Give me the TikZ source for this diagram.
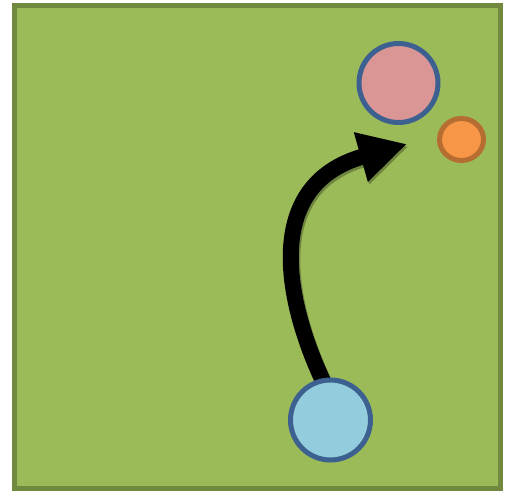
\documentclass[tikz,border=0pt]{standalone}
\usetikzlibrary{arrows.meta,shapes.geometric}
\definecolor{bgfill}{HTML}{9BBB59}
\definecolor{bgline}{HTML}{71893F}
\definecolor{pinkfill}{HTML}{D99694}
\definecolor{bluefill}{HTML}{93CDDD}
\definecolor{blueline}{HTML}{3C6090}
\definecolor{orangefill}{HTML}{F79646}
\definecolor{orangeline}{HTML}{B66D31}
\begin{document}
\begin{tikzpicture}[x=1pt,y=-1pt,
  ball/.style={circle,draw=blueline,line width=5pt,inner sep=0pt},
  bigarrow/.style={line width=16pt,-{Triangle[length=48pt,width=48pt]}}]
\useasboundingbox (0,0) rectangle (509,492);
\draw[fill=bgfill,draw=bgline,line width=5pt] (14.5,5.5) rectangle (500.5,488.5);
\node[ball,fill=pinkfill,minimum size=79pt] (pink) at (398.5,83) {};
\node[ellipse,draw=orangeline,fill=orangefill,line width=5pt,inner sep=0pt,minimum width=44pt,minimum height=42pt] (orange) at (461.5,139.5) {};
\coordinate (start) at (323,381);
\coordinate (tip) at (407,144);
\draw[bigarrow,draw=black!50!bgline,opacity=0.45,transform canvas={xshift=1.5pt,yshift=-2.5pt}] (start) .. controls (285,300) and (262,185) .. (tip);
\draw[bigarrow,black] (start) .. controls (285,300) and (262,185) .. (tip);
\node[ball,fill=bluefill,minimum size=80pt] (blue) at (330.5,420) {};
\end{tikzpicture}
\end{document}
